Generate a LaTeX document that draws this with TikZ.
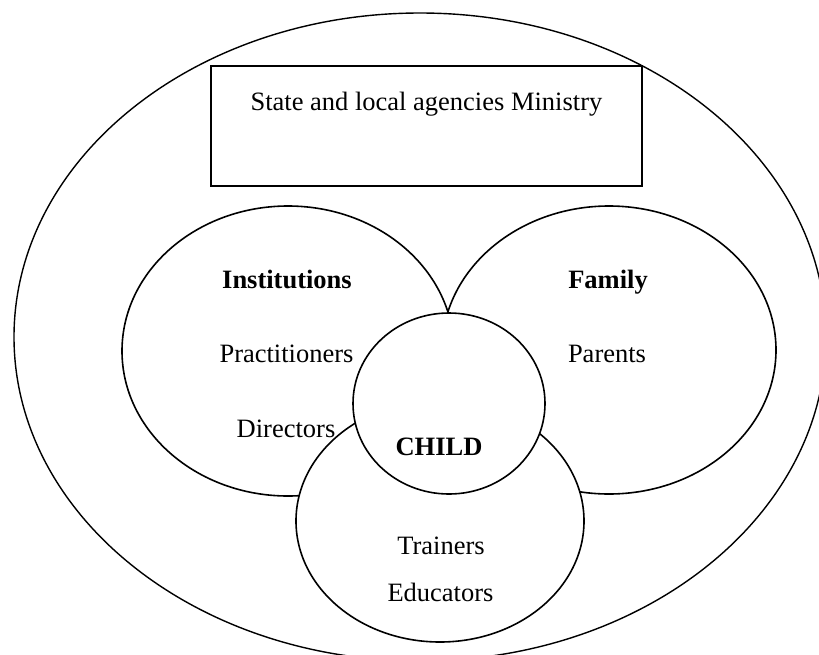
\documentclass[tikz,border=0pt]{standalone}
\usepackage{fontspec}
\setmainfont{Liberation Serif}
\usetikzlibrary{shapes.geometric}
\begin{document}
\begin{tikzpicture}[x=1pt,y=-1pt,line width=1.6pt,
  ring/.style={ellipse,draw,inner sep=0pt,outer sep=0pt},
  whitering/.style={ring,fill=white},
  lbl/.style={anchor=base,inner sep=0pt,font=\fontsize{26.5}{30}\selectfont},
  blbl/.style={anchor=base,inner sep=0pt,font=\fontsize{26.5}{30}\selectfont\bfseries}]
\useasboundingbox (0,0) rectangle (819,654);
\clip (0,0) rectangle (819,654);
% outer ellipse
\node[ring,line width=1.4pt,minimum width=812pt,minimum height=648pt] (outer) at (420,337) {};
% ministry box
\node[draw,inner sep=0pt,minimum width=431pt,minimum height=120pt] (box) at (426.35,125.85) {};
\node[lbl] (ministry) at (426.4,110) {State and local agencies Ministry};
% institutions and family
\node[ring,minimum width=332pt,minimum height=290pt] (inst) at (288,351) {};
\node[ring,minimum width=334pt,minimum height=288pt] (fam) at (609,350) {};
% trainers circle
\node[whitering,minimum width=288pt,minimum height=242pt] (train) at (440,521) {};
% child circle
\node[whitering,minimum width=192pt,minimum height=181pt] (child) at (449,403.5) {};
% labels
\node[blbl] (tinst) at (287,288) {Institutions};
\node[lbl] (tprac) at (286.5,362) {Practitioners};
\node[lbl] (tdir) at (286,437) {Directors};
\node[blbl] (tfam) at (608,288) {Family};
\node[lbl] (tpar) at (607,362) {Parents};
\node[blbl] (tchild) at (439,455) {CHILD};
\node[lbl] (ttrain) at (441,554) {Trainers};
\node[lbl] (tedu) at (440.5,601) {Educators};
\end{tikzpicture}
\end{document}
